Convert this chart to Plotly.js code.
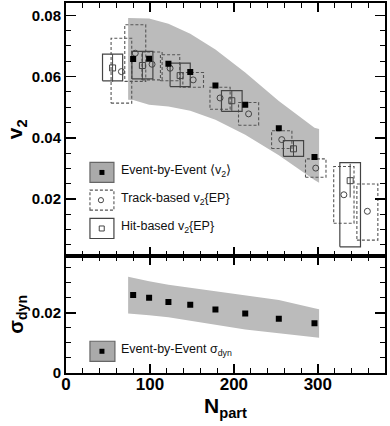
<!DOCTYPE html>
<html>
<head>
<meta charset="utf-8">
<script src="https://cdn.plot.ly/plotly-3.0.1.min.js"></script>
<style>html,body{margin:0;padding:0;background:#fff}#chart{width:390px;height:426px}</style>
</head>
<body>
<div id="chart"></div>
<script>
// ---- data ----
const npartEbE = [80, 99, 122, 148, 178, 213.5, 253.5, 296];
const v2EbE = [0.0657, 0.0658, 0.0642, 0.0615, 0.0571, 0.0508, 0.0431, 0.0337];
const bandNpart = [74, 80, 99, 122, 148, 178, 213.5, 253.5, 296, 301.5];
const v2BandHigh = [0.0791, 0.0790, 0.0789, 0.0772, 0.0740, 0.0688, 0.0613, 0.0520, 0.0433, 0.0429];
const v2BandLow = [0.0524, 0.0523, 0.0508, 0.0502, 0.0488, 0.0459, 0.0410, 0.0343, 0.0262, 0.0253];

const npartTrack = [66, 82.5, 102.5, 124, 151.5, 183.5, 217.5, 257, 297.5, 331, 359];
const npartTrackSys = [12.3, 12.5, 12, 11.5, 12.3, 12, 12, 12.1, 12.2, 12.1, 12.5];
const v2Track = [0.0616, 0.0676, 0.0640, 0.0627, 0.0589, 0.0530, 0.0478, 0.0394, 0.0301, 0.0214, 0.0160];
const v2TrackSysLow = [0.0513, 0.0584, 0.0589, 0.0586, 0.0565, 0.0493, 0.0441, 0.0365, 0.0271, 0.0121, 0.0066];
const v2TrackSysHigh = [0.0725, 0.0769, 0.0680, 0.0671, 0.0613, 0.0565, 0.0515, 0.0423, 0.0331, 0.0306, 0.0249];

const npartHit = [55.5, 91, 136, 197.5, 271, 338.5];
const npartHitSys = [12, 12.5, 12, 12.3, 12, 12.3];
const v2Hit = [0.0628, 0.0636, 0.0603, 0.0521, 0.0364, 0.0260];
const v2HitStat = [0.0045, 0.0045, 0.0040, 0.0033, 0.0026, 0.0055];
const v2HitSysLow = [0.0586, 0.0592, 0.0567, 0.0486, 0.0339, 0.0044];
const v2HitSysHigh = [0.0673, 0.0682, 0.0644, 0.0554, 0.0391, 0.0319];

const sigmaDyn = [0.0259, 0.0250, 0.0236, 0.0227, 0.0211, 0.0198, 0.0180, 0.0165];
const sigmaBandHigh = [0.0320, 0.0317, 0.0305, 0.0293, 0.0283, 0.0272, 0.0260, 0.0243, 0.0215, 0.0212];
const sigmaBandLow = [0.0198, 0.0196, 0.0192, 0.0185, 0.0172, 0.0160, 0.0145, 0.0132, 0.0119, 0.0117];

const xTickVals = [0, 100, 200, 300];
const xTickText = ['0', '100', '200', '300'];

// ---- helpers ----
function bandPolygon(xs, hi, lo) {
  return {x: xs.concat(xs.slice().reverse()), y: hi.concat(lo.slice().reverse())};
}
function boxes(xc, hw, lo, hi) {
  const X = [], Y = [];
  for (let i = 0; i < xc.length; i++) {
    const a = xc[i] - hw[i], b = xc[i] + hw[i];
    X.push(a, b, b, a, a, null);
    Y.push(lo[i], lo[i], hi[i], hi[i], lo[i], null);
  }
  return {x: X, y: Y};
}
const L = 66, R = 385.5, T = 3, B = 372.7;
const pxX = p => (p - L) / (R - L);
const pxY = p => (B - p) / (B - T);

const bandTop = bandPolygon(bandNpart, v2BandHigh, v2BandLow);
const bandBot = bandPolygon(bandNpart, sigmaBandHigh, sigmaBandLow);
const trackBoxes = boxes(npartTrack, npartTrackSys, v2TrackSysLow, v2TrackSysHigh);
const hitBoxes = boxes(npartHit, npartHitSys, v2HitSysLow, v2HitSysHigh);

const traces = [
  {x: bandTop.x, y: bandTop.y, xaxis: 'x2', yaxis: 'y2', type: 'scatter', mode: 'lines',
   fill: 'toself', fillcolor: '#bbbbbb', line: {width: 0}, hoverinfo: 'skip'},
  {x: trackBoxes.x, y: trackBoxes.y, xaxis: 'x2', yaxis: 'y2', type: 'scatter', mode: 'lines',
   line: {color: '#555', width: 1.1, dash: '3px,2px'}, connectgaps: false},
  {x: hitBoxes.x, y: hitBoxes.y, xaxis: 'x2', yaxis: 'y2', type: 'scatter', mode: 'lines',
   line: {color: '#444', width: 1.2}, connectgaps: false},
  {x: npartHit, y: v2Hit, xaxis: 'x2', yaxis: 'y2', type: 'scatter', mode: 'markers',
   marker: {symbol: 'square-open', size: 6, color: '#444', line: {width: 1}},
   error_y: {type: 'data', array: v2HitStat, thickness: 1, width: 0, color: '#444'}},
  {x: npartTrack, y: v2Track, xaxis: 'x2', yaxis: 'y2', type: 'scatter', mode: 'markers',
   marker: {symbol: 'circle-open', size: 6, color: '#444', line: {width: 1}}},
  {x: npartEbE, y: v2EbE, xaxis: 'x2', yaxis: 'y2', type: 'scatter', mode: 'markers',
   marker: {symbol: 'square', size: 6, color: '#000'}},
  {x: bandBot.x, y: bandBot.y, xaxis: 'x', yaxis: 'y', type: 'scatter', mode: 'lines',
   fill: 'toself', fillcolor: '#bbbbbb', line: {width: 0}, hoverinfo: 'skip'},
  {x: npartEbE, y: sigmaDyn, xaxis: 'x', yaxis: 'y', type: 'scatter', mode: 'markers',
   marker: {symbol: 'square', size: 6, color: '#000'}}
];

const FONT = 'Liberation Sans, Arial, Helvetica, sans-serif';
const split = pxY(255.5);
const commonX = {
  range: [0, 380], tickvals: xTickVals, ticktext: xTickText, ticks: 'inside', ticklen: 9, tickwidth: 1.5,
  tickcolor: '#000', minor: {dtick: 20, ticks: 'inside', ticklen: 5, tickwidth: 1, tickcolor: '#000'},
  showline: true, linewidth: 2, linecolor: '#000', mirror: 'ticks', showgrid: false, zeroline: false
};
const commonY = {
  ticks: 'inside', ticklen: 10, tickwidth: 1.5, tickcolor: '#000',
  showline: true, linewidth: 2, linecolor: '#000', mirror: 'ticks', showgrid: false, zeroline: false,
  tickfont: {family: FONT, size: 15, color: '#000', weight: 'bold'}
};

const shapes = [];
const annotations = [];
function legendBox(x0, x1, y0, y1, style) {
  shapes.push(Object.assign({type: 'rect', xref: 'paper', yref: 'paper',
    x0: pxX(x0), x1: pxX(x1), y0: pxY(y1), y1: pxY(y0)}, style));
}
// top legend
legendBox(90, 114, 162.3, 182.3, {fillcolor: '#aaaaaa', line: {color: '#666', width: 1.2}});
legendBox(99.5, 104.5, 169.8, 174.8, {fillcolor: '#000', line: {width: 0}});
legendBox(90, 114, 190, 210, {fillcolor: 'rgba(0,0,0,0)', line: {color: '#555', width: 1.1, dash: '3px,2px'}});
shapes.push({type: 'circle', xref: 'paper', yref: 'paper', x0: pxX(98.4), x1: pxX(103.6), y0: pxY(202.6), y1: pxY(197.4),
  line: {color: '#444', width: 1}});
legendBox(90, 114, 218.3, 238.3, {fillcolor: 'rgba(0,0,0,0)', line: {color: '#444', width: 1.2}});
legendBox(99.3, 104.3, 225.8, 230.8, {fillcolor: 'rgba(0,0,0,0)', line: {color: '#444', width: 1}});
// bottom legend
legendBox(90, 115, 341, 361, {fillcolor: '#aaaaaa', line: {color: '#666', width: 1.2}});
legendBox(99.5, 104.5, 348.5, 353.5, {fillcolor: '#000', line: {width: 0}});

function legendText(txt, py) {
  annotations.push({xref: 'paper', yref: 'paper', x: pxX(119), y: pxY(py), xanchor: 'left', yanchor: 'middle',
    text: txt, showarrow: false, font: {family: FONT, size: 12.5, color: '#111'}});
}
legendText('Event-by-Event \u27E8v<sub>2</sub>\u27E9', 171);
legendText('Track-based v<sub>2</sub>{EP}', 199);
legendText('Hit-based v<sub>2</sub>{EP}', 227);
legendText('Event-by-Event \u03C3<sub>dyn</sub>', 350);

const layout = {
  width: 390, height: 426,
  margin: {l: L, r: 390 - R, t: T, b: 426 - B, pad: 0},
  paper_bgcolor: '#fff', plot_bgcolor: '#fff', showlegend: false,
  font: {family: FONT, color: '#000'},
  xaxis: Object.assign({}, commonX, {domain: [0, 1], anchor: 'y', ticklabelstandoff: -5,
    tickfont: {family: FONT, size: 17, color: '#000', weight: 'bold'},
    title: {text: 'N<sub>part</sub>', font: {family: FONT, size: 21, color: '#000', weight: 'bold'}, standoff: 2}}),
  xaxis2: Object.assign({}, commonX, {domain: [0, 1], anchor: 'y2', showticklabels: false, matches: 'x'}),
  yaxis: Object.assign({}, commonY, {domain: [0, split], anchor: 'x', range: [0, 0.039],
    tickvals: [0, 0.02], ticktext: ['0', '0.02'],
    minor: {dtick: 0.005, ticks: 'inside', ticklen: 5, tickwidth: 1, tickcolor: '#000'},
    title: {text: '\u03C3<sub>dyn</sub>', font: {family: FONT, size: 20, color: '#000', weight: 'bold'}, standoff: 3}}),
  yaxis2: Object.assign({}, commonY, {domain: [split, 1], anchor: 'x2', range: [0.0015, 0.084],
    tickvals: [0.02, 0.04, 0.06, 0.08], ticktext: ['0.02', '0.04', '0.06', '0.08'],
    minor: {dtick: 0.005, ticks: 'inside', ticklen: 5, tickwidth: 1, tickcolor: '#000'},
    title: {text: 'v<sub>2</sub>', font: {family: FONT, size: 21, color: '#000', weight: 'bold'}, standoff: 3}}),
  shapes: shapes,
  annotations: annotations
};

Plotly.newPlot('chart', traces, layout, {staticPlot: true, displayModeBar: false});
</script>
</body>
</html>
